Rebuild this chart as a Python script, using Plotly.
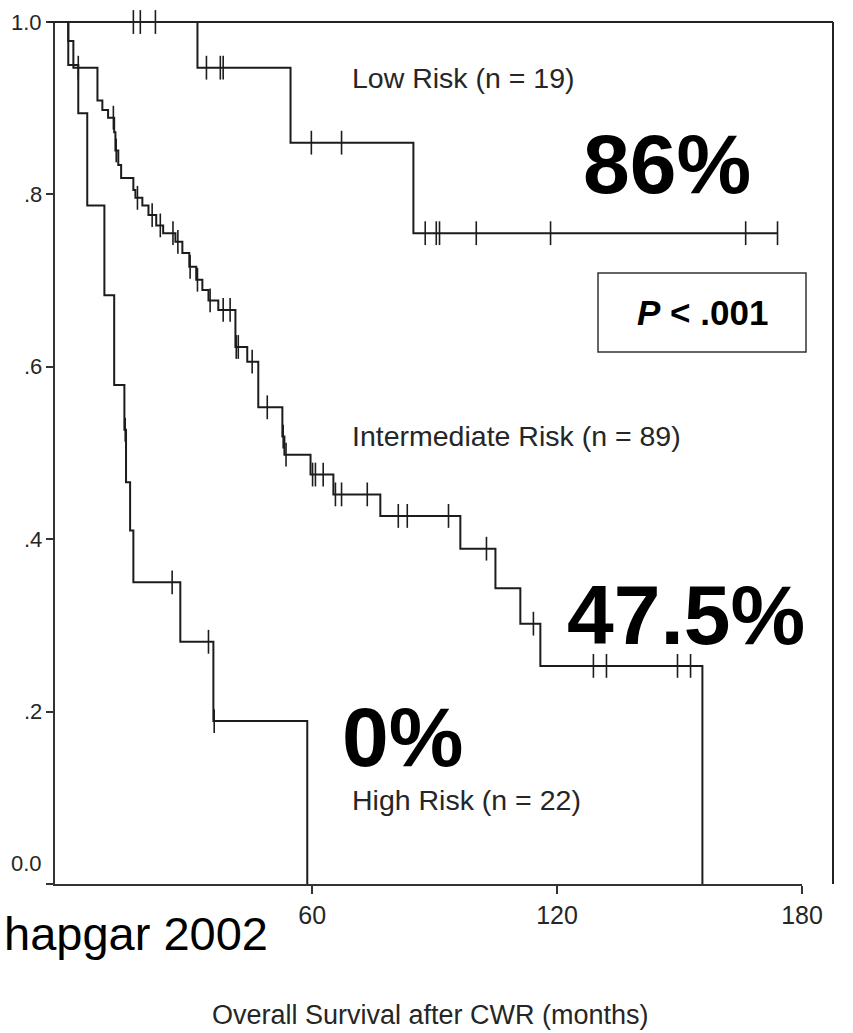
import plotly.graph_objects as go

# ---------------- data (months, survival proportion) ----------------
# Low risk group (n = 19)
low_event_t = [31.9, 54.7, 84.8]
low_event_s = [0.947, 0.860, 0.755]
low_censor_t = [16.2, 17.9, 21.6, 34.1, 37.5, 38.2, 59.8, 67.2, 87.7, 90.4,
                91.2, 100.2, 118.4, 166.2, 174.0]
low_end_t = 174.0

# Intermediate risk group (n = 89)
int_event_t = [0.25, 1.5, 7.4, 8.6, 10.0, 11.5, 11.8, 12.5, 13.2, 16.2,
               16.7, 18.4, 19.9, 21.8, 23.5, 26.5, 28.2, 29.9, 31.6, 33.1,
               34.6, 37.0, 41.2, 44.1, 46.8, 52.7, 53.2, 59.6, 65.2, 76.7,
               96.3, 104.9, 111.0, 115.9, 155.6]
int_event_s = [0.978, 0.947, 0.909, 0.898, 0.889, 0.872, 0.851, 0.834, 0.819, 0.805,
               0.796, 0.787, 0.776, 0.764, 0.755, 0.745, 0.732, 0.716, 0.701, 0.689,
               0.677, 0.666, 0.623, 0.606, 0.553, 0.519, 0.498, 0.475, 0.452, 0.427,
               0.389, 0.343, 0.302, 0.253, 0.0]
int_censor_t = [2.7, 11.3, 12.0, 17.2, 20.8, 22.8, 25.9, 27.1, 30.1, 31.9,
                35.0, 38.2, 39.9, 41.4, 41.9, 45.3, 49.0, 52.9, 53.6, 60.1,
                60.8, 62.7, 65.7, 67.2, 73.5, 81.1, 83.3, 93.4, 102.7, 114.2,
                128.9, 132.1, 149.5, 152.7]
int_end_t = None

# High risk group (n = 22)
high_event_t = [0.25, 2.7, 4.9, 9.1, 11.5, 14.0, 14.4, 15.4, 16.2, 27.7, 35.8, 58.8]
high_event_s = [0.950, 0.894, 0.787, 0.683, 0.579, 0.527, 0.466, 0.410, 0.350, 0.281, 0.189, 0.0]
high_censor_t = [14.2, 25.7, 34.6, 36.0]
high_end_t = None

# Group labels and five-year survival annotations
group_labels = ["Low Risk (n = 19)", "Intermediate Risk (n = 89)", "High Risk (n = 22)"]
five_year_labels = ["86%", "47.5%", "0%"]

x_ticks = [60, 120, 180]
y_ticks = [0.0, 0.2, 0.4, 0.6, 0.8, 1.0]
y_tick_labels = ["0.0", ".2", ".4", ".6", ".8", "1.0"]

x_title = "Overall Survival after CWR (months)"
p_text = "<b><i>P</i> < .001</b>"
source_text = "hapgar 2002"

# ---------------- layout geometry (pixels) ----------------
W, H = 853, 1033
PL, PR, PT, PB = 55, 802, 22, 884          # plot area edges
SANS = "Liberation Sans, Arial, Helvetica, sans-serif"
INK = "#1c1c1c"
GREY_TEXT = "#262626"


def px(xp):
    return (xp - PL) / (PR - PL)


def py(yp):
    return (PB - yp) / (PB - PT)


def level_at(t, times, levels):
    s = 1.0
    for ti, si in zip(times, levels):
        if ti <= t:
            s = si
        else:
            break
    return s


groups = [
    (low_event_t, low_event_s, low_censor_t, low_end_t),
    (int_event_t, int_event_s, int_censor_t, int_end_t),
    (high_event_t, high_event_s, high_censor_t, high_end_t),
]

fig = go.Figure()
for times, levels, censors, end_t in groups:
    xs = [0.0] + list(times)
    ys = [1.0] + list(levels)
    if end_t is not None and end_t > xs[-1]:
        xs.append(end_t)
        ys.append(levels[-1])
    fig.add_trace(go.Scatter(
        x=xs, y=ys, mode="lines",
        line=dict(shape="hv", color=INK, width=2),
        hoverinfo="skip", showlegend=False,
    ))
    fig.add_trace(go.Scatter(
        x=censors, y=[level_at(t, times, levels) for t in censors],
        mode="markers",
        marker=dict(symbol="line-ns", size=17, line=dict(width=1.6, color=INK)),
        cliponaxis=False, hoverinfo="skip", showlegend=False,
    ))

annotations = []
# y tick labels
for v, lab in zip(y_ticks, y_tick_labels):
    annotations.append(dict(
        x=0, y=v, xref="paper", yref="y", xanchor="right", yanchor="middle",
        xshift=-11, yshift=21 if v == 0 else 0,
        text=lab, showarrow=False, font=dict(family=SANS, size=22, color=GREY_TEXT),
    ))

# group labels
for lab, (xl, yc) in zip(group_labels, [(350, 78), (350, 436), (350, 800)]):
    annotations.append(dict(
        x=px(xl), y=py(yc), xref="paper", yref="paper", xanchor="left", yanchor="middle",
        text=lab, showarrow=False, font=dict(family=SANS, size=28.5, color=GREY_TEXT),
    ))

# five-year survival labels
for lab, (xl, yc) in zip(five_year_labels, [(581, 164), (565, 615), (340, 737)]):
    annotations.append(dict(
        x=px(xl), y=py(yc), xref="paper", yref="paper", xanchor="left", yanchor="middle",
        text="<b>" + lab + "</b>", showarrow=False, font=dict(family=SANS, size=84, color="#000"),
    ))

# p-value
annotations.append(dict(
    x=px(702), y=py(312), xref="paper", yref="paper", xanchor="center", yanchor="middle",
    text=p_text, showarrow=False, font=dict(family=SANS, size=35, color="#000"),
))

# axis title and source note
annotations.append(dict(
    x=px(430), y=py(1015), xref="paper", yref="paper", xanchor="center", yanchor="middle",
    text=x_title, showarrow=False, font=dict(family=SANS, size=27, color=GREY_TEXT),
))
annotations.append(dict(
    x=px(2), y=py(933), xref="paper", yref="paper", xanchor="left", yanchor="middle",
    text=source_text, showarrow=False, font=dict(family=SANS, size=47, color="#000"),
))

shapes = [
    # chart frame: top and right edges
    dict(type="line", xref="paper", yref="paper", x0=px(48), x1=px(833), y0=1, y1=1,
         line=dict(color="#222", width=2)),
    dict(type="line", xref="paper", yref="paper", x0=px(833), x1=px(833), y0=py(22), y1=py(884),
         line=dict(color="#222", width=2)),
    # p-value box
    dict(type="rect", xref="paper", yref="paper", x0=px(598), x1=px(806), y0=py(352), y1=py(273),
         line=dict(color="#333", width=1.5), fillcolor="rgba(0,0,0,0)"),
]

fig.update_layout(
    width=W, height=H, template="none",
    margin=dict(l=PL, r=W - PR, t=PT, b=H - PB, pad=0),
    paper_bgcolor="white", plot_bgcolor="white",
    showlegend=False,
    xaxis=dict(
        range=[-3, 180], tickvals=x_ticks, ticks="outside", ticklen=8, tickwidth=1.5,
        tickcolor="#333", showline=True, linecolor="#333", linewidth=2,
        showgrid=False, zeroline=False,
        tickfont=dict(family=SANS, size=25, color=GREY_TEXT),
    ),
    yaxis=dict(
        range=[0, 1], tickvals=y_ticks, ticks="outside", ticklen=7, tickwidth=1.5,
        tickcolor="#333", showline=True, linecolor="#333", linewidth=2,
        showgrid=False, zeroline=False, showticklabels=False,
    ),
    annotations=annotations,
    shapes=shapes,
)

fig.write_html("out.html")
